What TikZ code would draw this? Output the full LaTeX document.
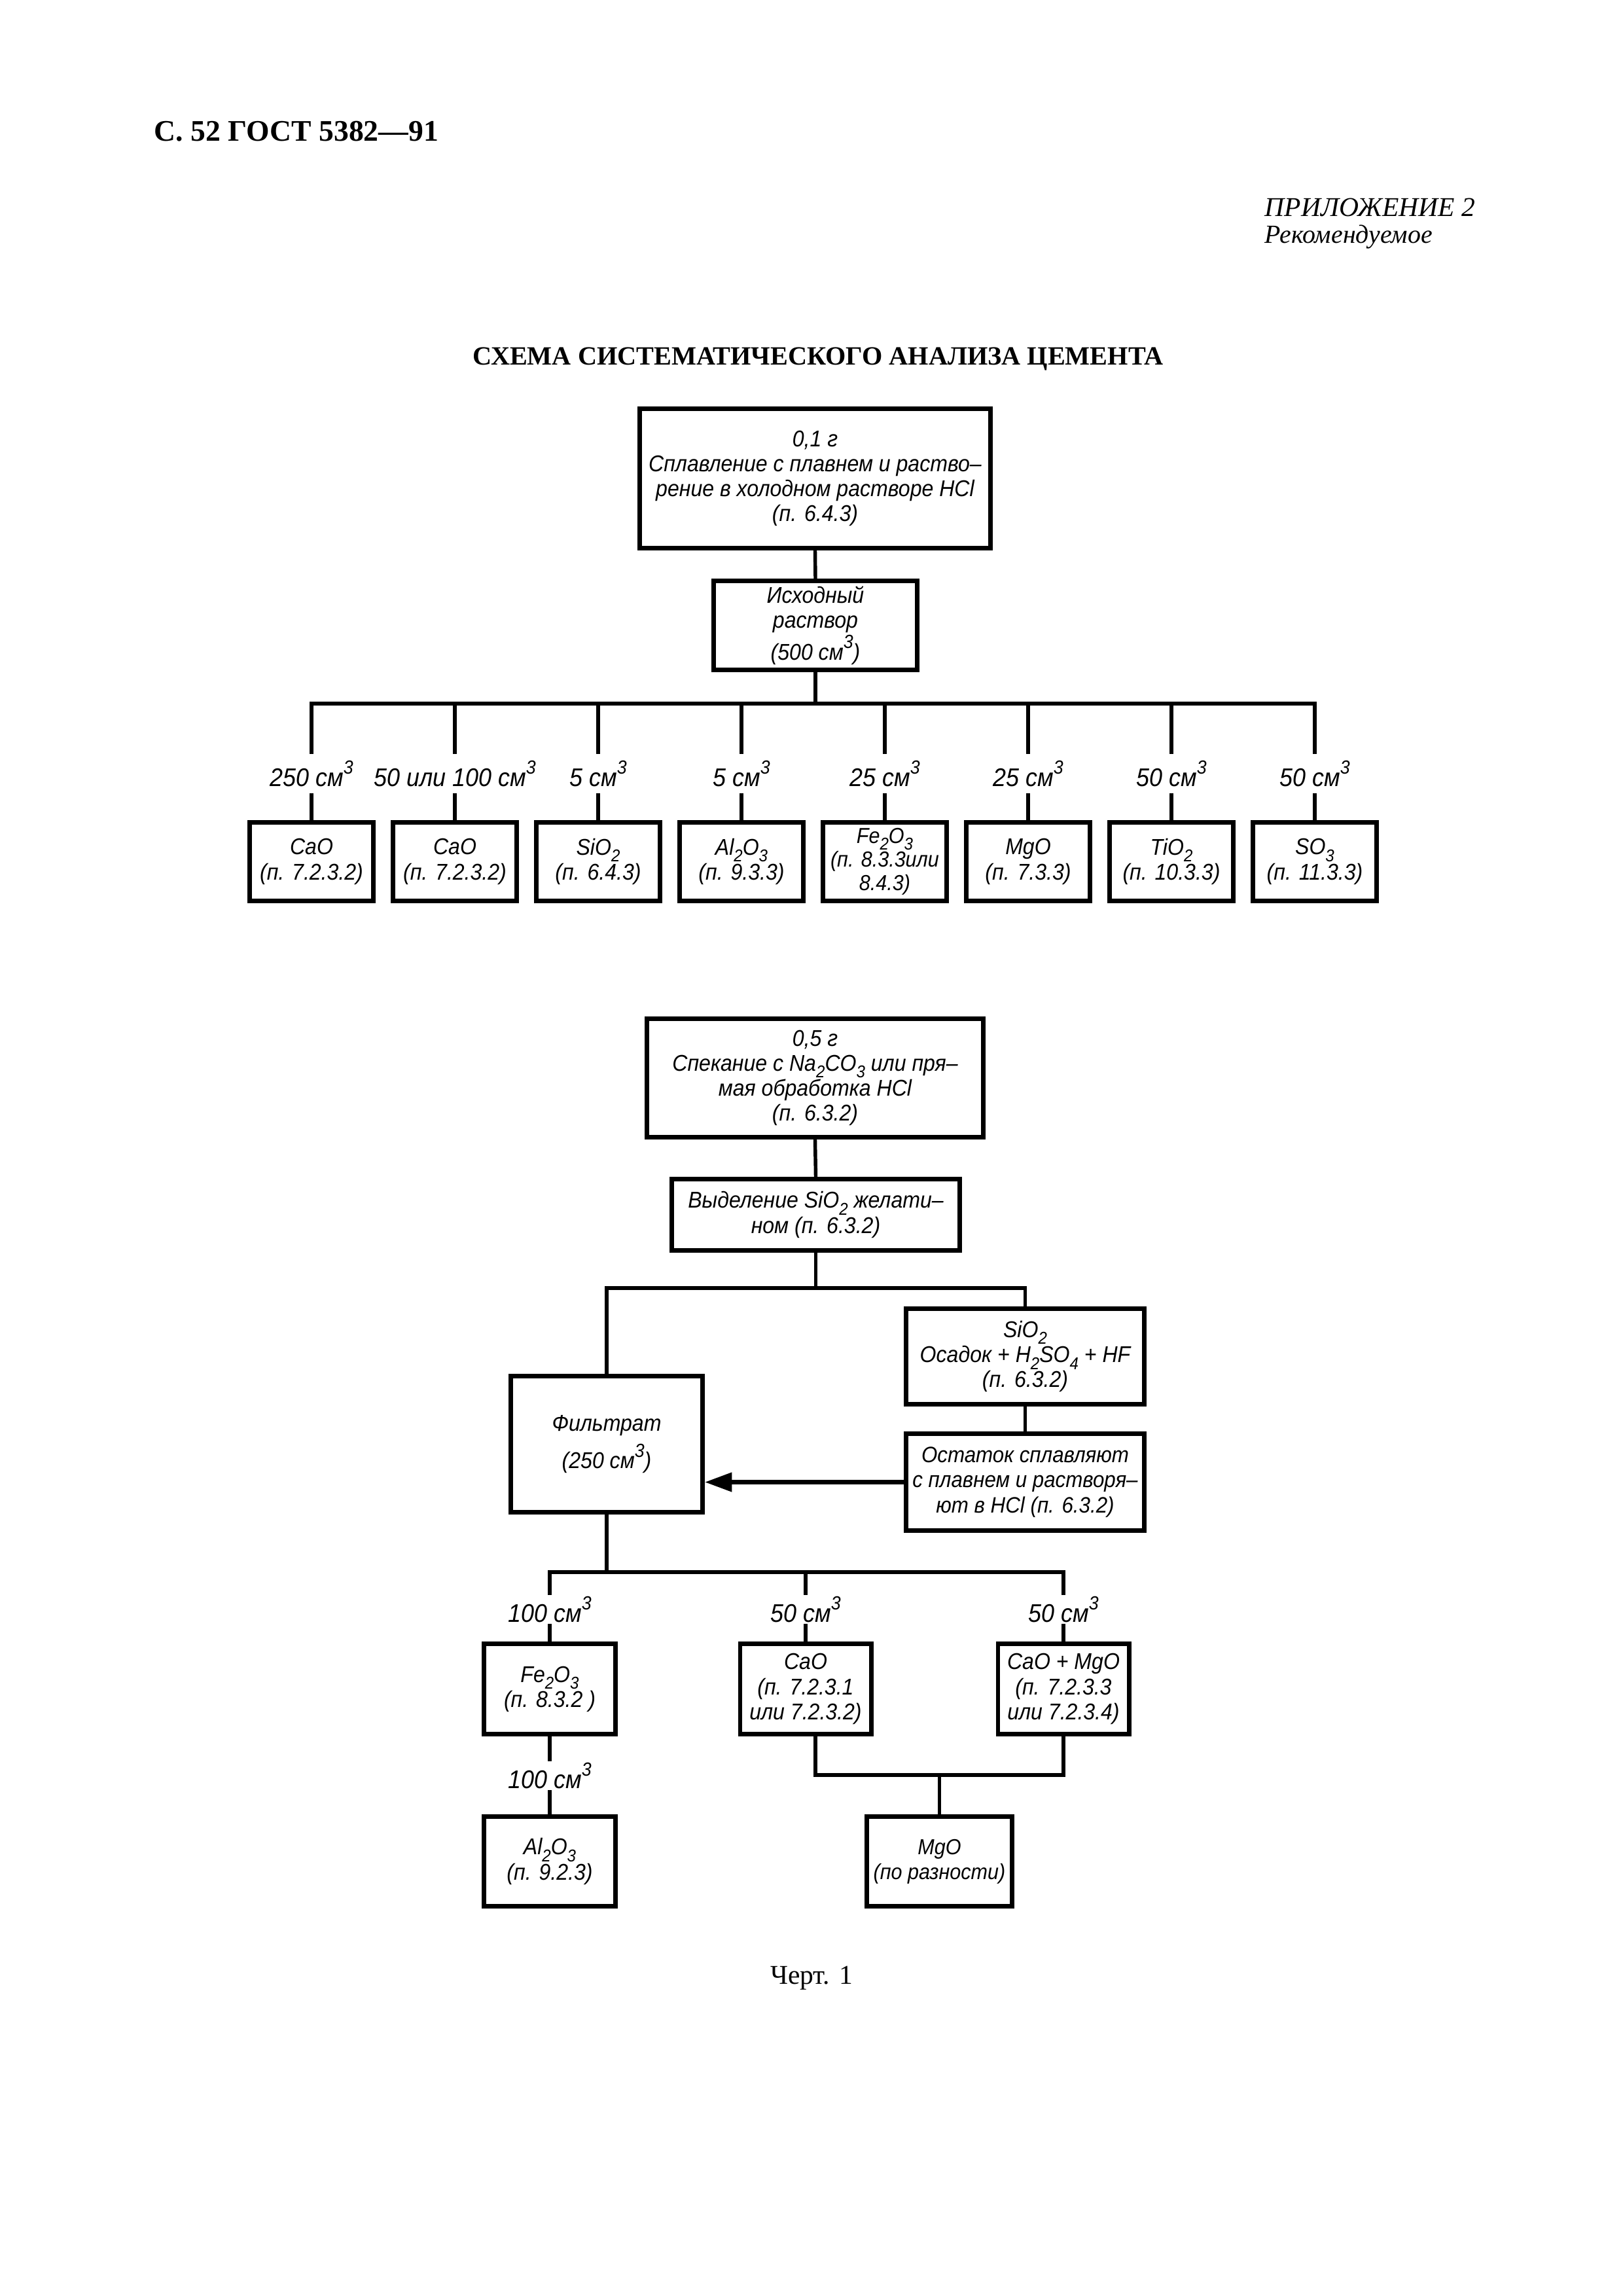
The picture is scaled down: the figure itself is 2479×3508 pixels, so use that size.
\documentclass[tikz,border=0pt]{standalone}
\usepackage{fontspec}
\setmainfont{Liberation Serif}
\newfontfamily\gost[FakeStretch=0.92]{Liberation Sans}
\usetikzlibrary{arrows.meta}
\newcommand\hi[1]{\raisebox{.5em}{\fontsize{7}{7}\selectfont #1}}
\newcommand\lo[1]{\raisebox{-.3em}{\fontsize{6.3}{6.3}\selectfont #1}}
\begin{document}
\begin{tikzpicture}[x=0.08471mm,y=-0.08471mm,
  box/.style={draw,line width=0.56mm,inner sep=0pt,align=center,font=\gost\itshape\fontsize{8.4}{9.2}\selectfont},
  bx/.style 2 args={minimum width={(#1-6.6)*0.08471mm},minimum height={(#2-6.6)*0.08471mm}},
  ln/.style={line width=0.46mm,line cap=rect},
  lbla/.style={inner sep=0pt,font=\gost\itshape\fontsize{9.4}{10}\selectfont,minimum height={63*0.08471mm}},
  lblb/.style={inner sep=0pt,font=\gost\itshape\fontsize{9.4}{10}\selectfont,minimum height={48*0.08471mm}},
  txt/.style={inner sep=0pt}]
\path[use as bounding box,fill=white] (0,0) rectangle (2479,3508);

% header
\node[txt,anchor=base west,font=\bfseries\fontsize{11}{12}\selectfont] (hdr) at (235,215) {С. 52 ГОСТ 5382—91};
\node[txt,anchor=base west,font=\itshape\fontsize{10}{12}\selectfont] (app) at (1932,330) {ПРИЛОЖЕНИЕ 2};
\node[txt,anchor=base west,font=\itshape\fontsize{9.6}{12}\selectfont] (rec) at (1932,371) {Рекомендуемое};
\node[txt,anchor=base,font=\bfseries\fontsize{9.7}{12}\selectfont] (ttl) at (1250,557) {СХЕМА СИСТЕМАТИЧЕСКОГО АНАЛИЗА ЦЕМЕНТА};

% ---------- diagram 1 ----------
\node[box,bx={543}{220}] (b1) at (1245.5,731) {0,1 г\\Сплавление с плавнем и раство–\\рение в холодном растворе HCl\\(п. 6.4.3)};
\node[box,bx={318}{143}] (b2) at (1246,955.5) {Исходный\\раствор\\(500 см\hi{3})};
\coordinate (busL) at (476,1075);
\coordinate (busR) at (2009,1075);
\draw[ln] (b1.south) -- (b2.north);
\draw[ln] (b2.south) -- (b2.south |- busL);
\draw[ln] (busL) -- (busR);

\node[lbla] (l1) at (476,1182) {250 см\hi{3}};
\node[lbla] (l2) at (695,1182) {50 или 100 см\hi{3}};
\node[lbla] (l3) at (914,1182) {5 см\hi{3}};
\node[lbla] (l4) at (1133,1182) {5 см\hi{3}};
\node[lbla] (l5) at (1352,1182) {25 см\hi{3}};
\node[lbla] (l6) at (1571,1182) {25 см\hi{3}};
\node[lbla] (l7) at (1790,1182) {50 см\hi{3}};
\node[lbla] (l8) at (2009,1182) {50 см\hi{3}};

\node[box,bx={196}{127}] (r1) at (476,1316.5) {CaO\\(п. 7.2.3.2)};
\node[box,bx={196}{127}] (r2) at (695,1316.5) {CaO\\(п. 7.2.3.2)};
\node[box,bx={196}{127}] (r3) at (914,1316.5) {SiO\lo{2}\\(п. 6.4.3)};
\node[box,bx={196}{127}] (r4) at (1133,1316.5) {Al\lo{2}O\lo{3}\\(п. 9.3.3)};
\node[box,bx={196}{127},font=\gost\itshape\fontsize{8}{8.6}\selectfont] (r5) at (1352,1316.5) {Fe\lo{2}O\lo{3}\\(п. 8.3.3или\\8.4.3)};
\node[box,bx={196}{127}] (r6) at (1571,1316.5) {MgO\\(п. 7.3.3)};
\node[box,bx={196}{127}] (r7) at (1790,1316.5) {TiO\lo{2}\\(п. 10.3.3)};
\node[box,bx={196}{127}] (r8) at (2009,1316.5) {SO\lo{3}\\(п. 11.3.3)};

\foreach \i in {1,...,8}{
  \draw[ln] (l\i.north |- busL) -- (l\i.north);
  \draw[ln] (l\i.south) -- (r\i.north);
}

% ---------- diagram 2 ----------
\node[box,bx={521}{188}] (A) at (1245.5,1647) {0,5 г\\Спекание с Na\lo{2}CO\lo{3} или пря–\\мая обработка HCl\\(п. 6.3.2)};
\node[box,bx={447}{116}] (B) at (1246.5,1856) {Выделение SiO\lo{2} желати–\\ном (п. 6.3.2)};
\draw[ln] (A.south) -- (B.north);
\coordinate (bus2) at (1246.5,1968);
\draw[ln] (B.south) -- (bus2);

\node[box,bx={300}{215}] (F) at (927,2206.5) {Фильтрат\\[2pt](250 см\hi{3})};
\node[box,bx={371}{153}] (S) at (1566.5,2072.5) {SiO\lo{2}\\Осадок + H\lo{2}SO\lo{4} + HF\\(п. 6.3.2)};
\node[box,bx={371}{155},font=\gost\itshape\fontsize{8.2}{9.2}\selectfont] (O) at (1566.5,2264.5) {Остаток сплавляют\\с плавнем и растворя–\\ют в HCl (п. 6.3.2)};
\draw[ln] (F.north) -- (F.north |- bus2) -- (S.north |- bus2) -- (S.north);
\draw[ln] (S.south) -- (O.north);
\draw[line width=0.55mm,-{Triangle[length=3.5mm,width=2.4mm]}] (O.west) -- (O.west -| F.east);

\coordinate (bus3L) at (840,2402);
\coordinate (bus3R) at (1625,2402);
\draw[ln] (F.south) -- (F.south |- bus3L);
\draw[ln] (bus3L) -- (bus3R);

\node[lblb] (m1) at (840,2459) {100 см\hi{3}};
\node[lblb] (m2) at (1231,2459) {50 см\hi{3}};
\node[lblb] (m3) at (1625,2459) {50 см\hi{3}};

\node[box,bx={208}{145}] (Fe) at (840,2580.5) {Fe\lo{2}O\lo{3}\\(п. 8.3.2 )};
\node[box,bx={207}{145}] (Ca) at (1231,2580.5) {CaO\\(п. 7.2.3.1\\или 7.2.3.2)};
\node[box,bx={207}{145}] (CM) at (1625,2580.5) {CaO + MgO\\(п. 7.2.3.3\\или 7.2.3.4)};
\draw[ln] (m1.north |- bus3L) -- (m1.north);
\draw[ln] (m2.north |- bus3L) -- (m2.north);
\draw[ln] (m3.north |- bus3L) -- (m3.north);
\draw[ln] (m1.south) -- (Fe.north);
\draw[ln] (m2.south) -- (Ca.north);
\draw[ln] (m3.south) -- (CM.north);

\node[lblb] (m4) at (840,2713) {100 см\hi{3}};
\node[box,bx={208}{144}] (Al) at (840,2844) {Al\lo{2}O\lo{3}\\(п. 9.2.3)};
\node[box,bx={229}{144},font=\gost\itshape\fontsize{8}{9.2}\selectfont] (Mg) at (1435.5,2844) {MgO\\(по разности)};
\draw[ln] (Fe.south) -- (m4.north);
\draw[ln] (m4.south) -- (Al.north);

\coordinate (brk) at (1435.5,2712);
\draw[ln] ([xshift=1.27mm]Ca.south) |- (brk) -| (CM.south);
\draw[ln] (brk) -- (Mg.north);

\node[txt,anchor=base,font=\fontsize{10}{12}\selectfont] (cap) at (1240,3031) {Черт. 1};
\end{tikzpicture}
\end{document}
